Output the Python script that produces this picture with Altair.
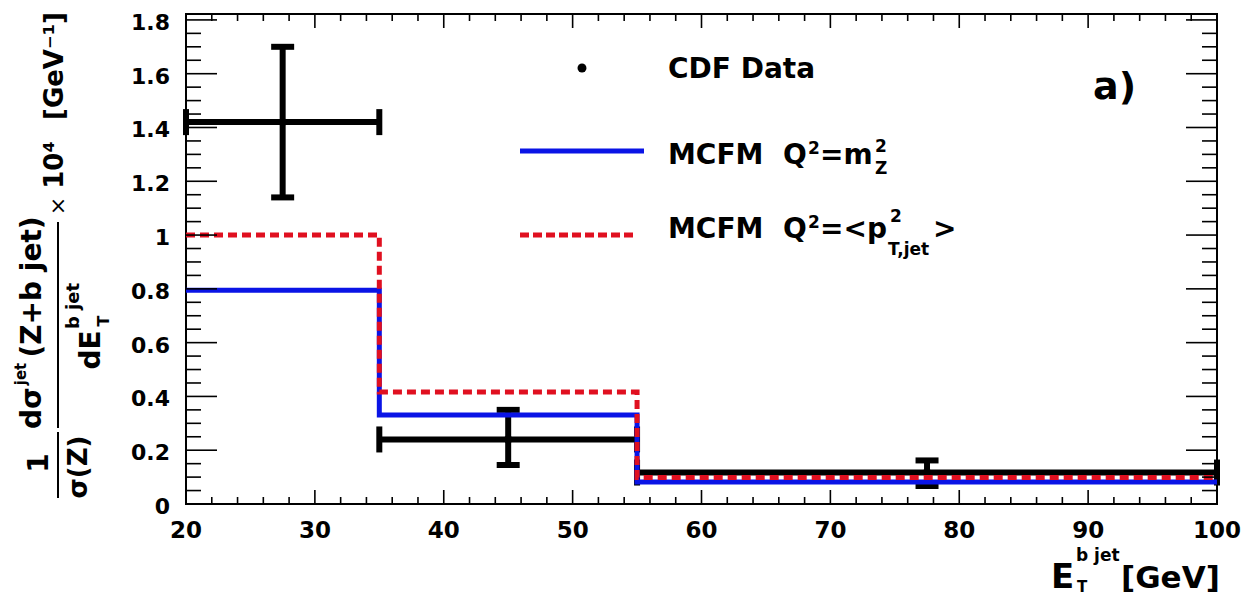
import altair as alt
import pandas as pd

# ---------------- data ----------------
bin_lo = [20, 35, 55]
bin_hi = [35, 55, 100]
edges = [20, 35, 55, 100]
centers = [27.5, 45, 77.5]
cdf = [1.42, 0.24, 0.117]
cdf_lo = [1.14, 0.145, 0.067]
cdf_hi = [1.70, 0.35, 0.162]
mcfm_mz = [0.795, 0.331, 0.082]
mcfm_pt = [1.0, 0.416, 0.099]

x_major = [20, 30, 40, 50, 60, 70, 80, 90, 100]
x_labels = ["20", "30", "40", "50", "60", "70", "80", "90", "100"]
x_minor = [v for v in range(20, 101, 2) if v % 10]
y_major = [0, 0.2, 0.4, 0.6, 0.8, 1, 1.2, 1.4, 1.6, 1.8]
y_labels = ["0", "0.2", "0.4", "0.6", "0.8", "1", "1.2", "1.4", "1.6", "1.8"]
y_minor = [round(i * 0.05, 2) for i in range(0, 37) if i % 4]

# ---------------- layout ----------------
FONT = "DejaVu Sans"
W, H = 1031, 490
X0, Y0 = 186, 14
BLUE = "#0a14e6"
RED = "#e01020"
NB = "\u00a0"

xs = alt.Scale(domain=[20, 100], nice=False, zero=False)
ys = alt.Scale(domain=[0, 1.822], nice=False, zero=False)

df = pd.DataFrame(dict(lo=bin_lo, hi=bin_hi, c=centers, v=cdf, elo=cdf_lo, ehi=cdf_hi))
hist = pd.DataFrame(dict(x=edges, mz=mcfm_mz + [mcfm_mz[-1]], pt=mcfm_pt + [mcfm_pt[-1]]))
dummy = pd.DataFrame({"d": [0]})


def X(f):
    return alt.X(f, scale=xs, axis=None)


def Y(f):
    return alt.Y(f, scale=ys, axis=None)


layers = []

# data: horizontal bars + caps
layers.append(alt.Chart(df).mark_rule(color="black", strokeWidth=6).encode(
    x=X("lo:Q"), x2="hi:Q", y=Y("v:Q")))
for f in ["lo:Q", "hi:Q"]:
    layers.append(alt.Chart(df).mark_tick(orient="vertical", size=26, thickness=6,
                                          color="black", opacity=1).encode(
        x=X(f), y=Y("v:Q")))
# vertical bars + caps
layers.append(alt.Chart(df).mark_rule(color="black", strokeWidth=6).encode(
    x=X("c:Q"), y=Y("elo:Q"), y2="ehi:Q"))
for f in ["elo:Q", "ehi:Q"]:
    layers.append(alt.Chart(df).mark_tick(orient="horizontal", size=23, thickness=6,
                                          color="black", opacity=1).encode(
        x=X("c:Q"), y=Y(f)))
layers.append(alt.Chart(df).mark_circle(size=70, color="black", opacity=1).encode(
    x=X("c:Q"), y=Y("v:Q")))

# MCFM histograms
layers.append(alt.Chart(hist).mark_line(interpolate="step-after", color=BLUE,
                                        strokeWidth=5).encode(x=X("x:Q"), y=Y("mz:Q")))
layers.append(alt.Chart(hist).mark_line(interpolate="step-after", color=RED,
                                        strokeWidth=5, strokeDash=[9, 5]).encode(
    x=X("x:Q"), y=Y("pt:Q")))

# frame ticks (inside, all four sides)
for vals, ln in [(x_major, 14), (x_minor, 7)]:
    t = pd.DataFrame({"t": vals})
    layers.append(alt.Chart(t).mark_rule(color="black", strokeWidth=1.6).encode(
        x=X("t:Q"), y=alt.value(H), y2=alt.value(H - ln)))
    layers.append(alt.Chart(t).mark_rule(color="black", strokeWidth=1.6).encode(
        x=X("t:Q"), y=alt.value(0), y2=alt.value(ln)))
for vals, ln in [(y_major, 31), (y_minor, 15)]:
    t = pd.DataFrame({"t": vals})
    layers.append(alt.Chart(t).mark_rule(color="black", strokeWidth=1.6).encode(
        y=Y("t:Q"), x=alt.value(0), x2=alt.value(ln)))
    layers.append(alt.Chart(t).mark_rule(color="black", strokeWidth=1.6).encode(
        y=Y("t:Q"), x=alt.value(W - ln), x2=alt.value(W)))

# tick labels
layers.append(alt.Chart(pd.DataFrame({"t": x_major, "s": x_labels})).mark_text(
    font=FONT, fontSize=23, fontWeight="bold", color="black", align="center",
    baseline="alphabetic").encode(x=X("t:Q"), y=alt.value(H + 34), text="s:N"))
layers.append(alt.Chart(pd.DataFrame({"t": y_major, "s": y_labels})).mark_text(
    font=FONT, fontSize=22, fontWeight="bold", color="black", align="right",
    baseline="alphabetic", dy=10).encode(x=alt.value(-16), y=Y("t:Q"), text="s:N"))


def txt(s, px, py, size, angle=0, align="left", baseline="alphabetic", weight="bold"):
    return alt.Chart(dummy).mark_text(text=s, font=FONT, fontSize=size, fontWeight=weight,
                                      angle=angle, align=align, baseline=baseline,
                                      color="black").encode(
        x=alt.value(px - X0), y=alt.value(py - Y0))


def seg(x1, y1, x2, y2, color="black", width=2, dash=None):
    kw = dict(color=color, strokeWidth=width)
    if dash:
        kw["strokeDash"] = dash
    return alt.Chart(dummy).mark_rule(**kw).encode(
        x=alt.value(x1 - X0), x2=alt.value(x2 - X0),
        y=alt.value(y1 - Y0), y2=alt.value(y2 - Y0))


# legend
layers.append(alt.Chart(dummy).mark_circle(size=80, color="black", opacity=1).encode(
    x=alt.value(582 - X0), y=alt.value(68 - Y0)))
layers.append(txt("CDF Data", 668, 78, 28))
layers.append(seg(520, 151, 644, 151, BLUE, 5))
layers.append(txt("MCFM" + NB + NB + "Q", 668, 164, 28))
layers.append(txt("2", 808, 154, 17))
layers.append(txt("=m", 820, 164, 28))
layers.append(txt("2", 875, 152, 17))
layers.append(txt("Z", 875, 174, 17))
layers.append(seg(520, 235, 637, 235, RED, 5, [9, 4]))
layers.append(txt("MCFM" + NB + NB + "Q", 668, 238, 28))
layers.append(txt("2", 808, 228, 17))
layers.append(txt("=<p", 820, 238, 28))
layers.append(txt("2", 890, 222, 17))
layers.append(txt("T,jet", 888, 255, 17))
layers.append(txt(">", 933, 238, 28))

# panel label
layers.append(txt("a)", 1093, 99, 38))

# x title
layers.append(txt("E", 1051, 588, 34))
layers.append(txt("b jet", 1076, 561, 17))
layers.append(txt("T", 1077, 592, 15))
layers.append(txt("[GeV]", 1121, 588, 31))

# y title (rotated pieces)
R = dict(angle=270, align="center", baseline="middle")
layers.append(txt("1", 40, 463, 28, **R))
layers.append(seg(58, 432, 58, 498, width=2))
layers.append(txt("σ(Z)", 79, 467, 26, **R))
layers.append(txt("dσ", 33, 408, 28, **R))
layers.append(txt("jet", 21, 374, 15, **R))
layers.append(txt("(Z+b jet)", 33, 287, 28, **R))
layers.append(seg(58, 222, 58, 428, width=2))
layers.append(txt("dE", 92, 350, 28, **R))
layers.append(txt("b jet", 74, 306, 18, **R))
layers.append(txt("T", 104, 321, 16, **R))
layers.append(txt("×", 58, 206, 22, weight="normal", **R))
layers.append(txt("10⁴", 55, 165, 26, **R))
layers.append(txt("[GeV⁻¹]", 55, 66, 26, **R))

chart = alt.layer(*layers).properties(
    width=W, height=H,
    padding={"left": 178, "top": 6, "right": 26, "bottom": 92},
    autosize=alt.AutoSizeParams(type="none"),
).configure_view(stroke="black", strokeWidth=2)

chart.save("out.html", embed_options={"renderer": "svg", "actions": False})
